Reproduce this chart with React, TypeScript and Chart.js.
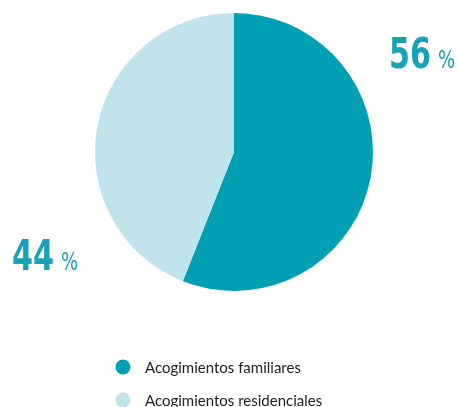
import React, { useEffect, useRef } from "react";
import { Chart, registerables } from "chart.js";

Chart.register(...registerables);

const categories = ["Acogimientos familiares", "Acogimientos residenciales"];
const values = [56, 44];
const colors = ["#00a0b4", "#c1e3eb"];
const valueLabels = ["56", "44"];

const labelPlugin = {
  id: "customLabels",
  afterDraw(chart: any) {
    const ctx = chart.ctx as CanvasRenderingContext2D;
    const anchors = [
      { x: 389, y: 68 },
      { x: 12, y: 270 },
    ];
    ctx.save();
    valueLabels.forEach((lab, i) => {
      const a = anchors[i];
      ctx.fillStyle = "#17a2b5";
      ctx.textBaseline = "alphabetic";
      ctx.textAlign = "left";
      ctx.save();
      ctx.translate(a.x, a.y);
      ctx.scale(0.78, 1);
      ctx.font = "bold 43px 'DejaVu Sans Condensed', 'DejaVu Sans', sans-serif";
      ctx.fillText(lab, 0, 0);
      const w = ctx.measureText(lab).width * 0.78;
      ctx.restore();
      ctx.save();
      ctx.translate(a.x + w + 7, a.y);
      ctx.scale(0.8, 1);
      ctx.font = "25px 'DejaVu Sans Condensed', 'DejaVu Sans', sans-serif";
      ctx.fillText("%", 0, 0);
      ctx.restore();
    });
    // legend
    const legendY = [367, 400];
    categories.forEach((c, i) => {
      ctx.beginPath();
      ctx.fillStyle = colors[i];
      ctx.arc(123, legendY[i], 7.5, 0, Math.PI * 2);
      ctx.fill();
      ctx.fillStyle = "#222";
      ctx.font = "15px Lato, 'Open Sans', sans-serif";
      ctx.textBaseline = "middle";
      ctx.fillText(c, 145, legendY[i] + 1);
    });
    ctx.restore();
  },
};

export default function App() {
  const ref = useRef<HTMLCanvasElement>(null);
  useEffect(() => {
    const chart = new Chart(ref.current!, {
      type: "pie",
      data: {
        labels: categories,
        datasets: [
          {
            data: values,
            backgroundColor: colors,
            borderWidth: 0,
          },
        ],
      },
      options: {
        animation: false,
        responsive: false,
        layout: { padding: { top: 13, bottom: 116, left: 95, right: 84 } },
        plugins: { legend: { display: false }, tooltip: { enabled: false } },
      },
      plugins: [labelPlugin],
    });
    return () => chart.destroy();
  }, []);
  return (
    <div style={{ position: "fixed", left: 0, top: 0, width: 457, height: 407, background: "#fff" }}>
      <canvas ref={ref} width={457} height={407} />
    </div>
  );
}
